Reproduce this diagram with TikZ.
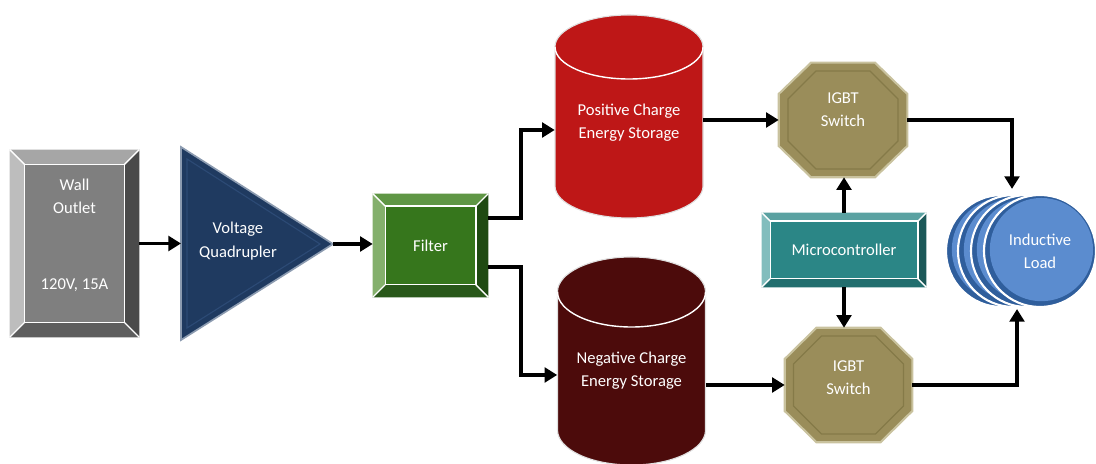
\documentclass[tikz,border=0pt]{standalone}
\usepackage{fontspec}
\setmainfont{Carlito}
\usetikzlibrary{arrows.meta,calc,backgrounds}

\definecolor{wallfill}{HTML}{7F7F7F}
\definecolor{walltop}{HTML}{A6A6A6}
\definecolor{wallleft}{HTML}{BDBDBD}
\definecolor{wallright}{HTML}{4A4A4A}
\definecolor{wallbot}{HTML}{5E5E5E}
\definecolor{quadfill}{HTML}{1F3A60}
\definecolor{quadedge}{HTML}{8C9BB0}
\definecolor{quadline}{HTML}{2C4A75}
\definecolor{filtfill}{HTML}{36761C}
\definecolor{filttop}{HTML}{5F9645}
\definecolor{filtleft}{HTML}{84B06C}
\definecolor{filtright}{HTML}{1F4A12}
\definecolor{filtbot}{HTML}{29581A}
\definecolor{posred}{HTML}{BE1717}
\definecolor{negred}{HTML}{4C0B0B}
\definecolor{swfill}{HTML}{9A8D5A}
\definecolor{swlight}{HTML}{C9C29E}
\definecolor{swline}{HTML}{857A48}
\definecolor{mcfill}{HTML}{2B8686}
\definecolor{mctop}{HTML}{5AA1A1}
\definecolor{mcleft}{HTML}{82BDBD}
\definecolor{mcright}{HTML}{1C5858}
\definecolor{mcbot}{HTML}{226E6E}
\definecolor{loadblue}{HTML}{5B8CCF}
\definecolor{loaddark}{HTML}{2F5E9C}

% bevelled frame round a box node: name, depth, top, left, right, bottom
\newcommand\bevelbox[6]{%
  \fill[#3] (#1.north west) -- (#1.north east) -- ($(#1.north east)+(-#2,-#2)$) -- ($(#1.north west)+(#2,-#2)$) -- cycle;
  \fill[#4] (#1.north west) -- ($(#1.north west)+(#2,-#2)$) -- ($(#1.south west)+(#2,#2)$) -- (#1.south west) -- cycle;
  \fill[#5] (#1.north east) -- ($(#1.north east)+(-#2,-#2)$) -- ($(#1.south east)+(-#2,#2)$) -- (#1.south east) -- cycle;
  \fill[#6] (#1.south west) -- ($(#1.south west)+(#2,#2)$) -- ($(#1.south east)+(-#2,#2)$) -- (#1.south east) -- cycle;
  \draw[white, line width=1pt] ($(#1.north west)+(#2,-#2)$) rectangle ($(#1.south east)+(-#2,#2)$);
  \draw[white, line width=1pt] (#1.north west) -- ++(#2,-#2) (#1.north east) -- ++(-#2,-#2)
    (#1.south west) -- ++(#2,#2) (#1.south east) -- ++(-#2,#2);
}

\begin{document}
\begin{tikzpicture}[x=0.025cm, y=0.025cm,
  txt/.style={font=\fontsize{11.8}{16.5}\selectfont, text=white, align=center, inner sep=0pt},
  box/.style={rectangle, inner sep=0pt},
  arr/.style={line width=2.7pt, -{Triangle[length=9pt,width=10.5pt]}},
  coil/.style={circle, fill=loaddark, draw=white, line width=1.5pt, minimum size=2.8cm, inner sep=0pt,
    path picture={\fill[loadblue] ($(path picture bounding box.center)+(1pt,1pt)$) circle (1.29cm);}}]
  \useasboundingbox (0,0) rectangle (1096,464);

  % Wall outlet
  \node[box, fill=wallfill, minimum width=3.225cm, minimum height=4.675cm] (wall) at (74.5,220.5) {};
  \bevelbox{wall}{15}{walltop}{wallleft}{wallright}{wallbot}
  \node[txt] (wall-name) at ($(wall)+(0,47)$) {Wall\\Outlet};
  \node[txt] (wall-rate) at ($(wall)+(0,-41.5)$) {120V, 15A};

  % Voltage quadrupler
  \coordinate (quad-top) at (181,317);
  \coordinate (quad-bot) at (181,124);
  \coordinate (quad-out) at (333,220);
  \fill[quadfill, draw=quadedge, line width=1.2pt] (quad-top) -- (quad-out) -- (quad-bot) -- cycle;
  \draw[quadline, line width=0.8pt] ($(quad-top)+(6,-12)$) -- ($(quad-out)+(-13,0)$) -- ($(quad-bot)+(6,12)$) -- cycle;
  \node[txt] (quad) at (238,223) {Voltage\\Quadrupler};

  % Filter
  \node[txt, box, fill=filtfill, minimum width=2.875cm, minimum height=2.575cm] (filter) at (430.5,218.5) {Filter};
  \bevelbox{filter}{12.5}{filttop}{filtleft}{filtright}{filtbot}

  % Storage tanks
  \node[txt, minimum width=3.7cm] (pos) at (629,341) {Positive Charge\\Energy Storage};
  \node[txt, minimum width=3.7cm] (neg) at (631.5,93) {Negative Charge\\Energy Storage};
  \begin{pgfonlayer}{background}
    \foreach \nm/\up/\dn/\ry/\col in {pos/76/63/0.8cm/posred, neg/79/59/0.875cm/negred} {
      \fill[\col, draw=black!12, line width=0.8pt] ($(\nm)+(-74,\up)$) -- ($(\nm)+(-74,-\dn)$)
        arc[start angle=180, end angle=360, x radius=1.85cm, y radius=\ry]
        -- ($(\nm)+(74,\up)$) arc[start angle=0, end angle=180, x radius=1.85cm, y radius=\ry] -- cycle;
      \draw[white, line width=1pt] ($(\nm)+(-74,\up)$)
        arc[start angle=180, end angle=360, x radius=1.85cm, y radius=\ry];
    }
  \end{pgfonlayer}

  % IGBT switches
  \node[box, minimum width=3.2cm, minimum height=2.85cm] (sw1) at (843,344) {};
  \node[box, minimum width=3.175cm, minimum height=2.85cm] (sw2) at (848.5,79) {};
  \begin{pgfonlayer}{background}
    \foreach \s in {sw1,sw2} {
      \fill[swfill, draw=swlight, line width=1.5pt] ($(\s.west)+(0,26)$) -- ($(\s.north)+(-32,0)$) -- ($(\s.north)+(32,0)$)
        -- ($(\s.east)+(0,26)$) -- ($(\s.east)+(0,-26)$) -- ($(\s.south)+(32,0)$) -- ($(\s.south)+(-32,0)$)
        -- ($(\s.west)+(0,-26)$) -- cycle;
      \draw[swline, line width=0.8pt] ($(\s)+(-55,21)$) -- ($(\s)+(-27,49)$) -- ($(\s)+(27,49)$) -- ($(\s)+(55,21)$)
        -- ($(\s)+(55,-21)$) -- ($(\s)+(27,-49)$) -- ($(\s)+(-27,-49)$) -- ($(\s)+(-55,-21)$) -- cycle;
    }
  \end{pgfonlayer}
  \node[txt] (sw1-txt) at ($(sw1)+(0,10.5)$) {IGBT\\Switch};
  \node[txt] (sw2-txt) at ($(sw2)+(0,7.5)$) {IGBT\\Switch};

  % Microcontroller
  \node[txt, box, fill=mcfill, minimum width=4.1cm, minimum height=1.85cm] (mc) at (844,214) {Microcontroller};
  \bevelbox{mc}{8.5}{mctop}{mcleft}{mcright}{mcbot}

  % Inductive load
  \foreach \i/\x in {1/1002,2/1014,3/1027} {
    \node[coil] (load\i) at (\x,213) {};
  }
  \node[coil, txt] (load) at (1040,213) {Inductive\\Load};

  % Connections
  \draw[arr] (wall.east) -- (wall.east -| quad-top);
  \draw[arr] (quad-out) -- (quad-out -| filter.west);
  \draw[arr] ($(filter.east)+(0,27.5)$) -- ++(33,0) |- ($(pos.west)+(0,-7)$);
  \draw[arr] ($(filter.east)+(0,-21.5)$) -- ++(33,0) |- ($(neg.west)+(0,-4)$);
  \draw[arr] (pos.east |- sw1.west) -- (sw1.west);
  \draw[arr] (neg.east |- sw2.west) -- (sw2.west);
  \draw[arr] (mc.north) -- (mc.north |- sw1.south);
  \draw[arr] (mc.south) -- (mc.south |- sw2.north);
  \draw[arr] (sw1.east) -| ($(load3.north)+(-15,5)$);
  \draw[arr] (sw2.east) -| ($(load.south)+(-23,-1)$);
\end{tikzpicture}
\end{document}
